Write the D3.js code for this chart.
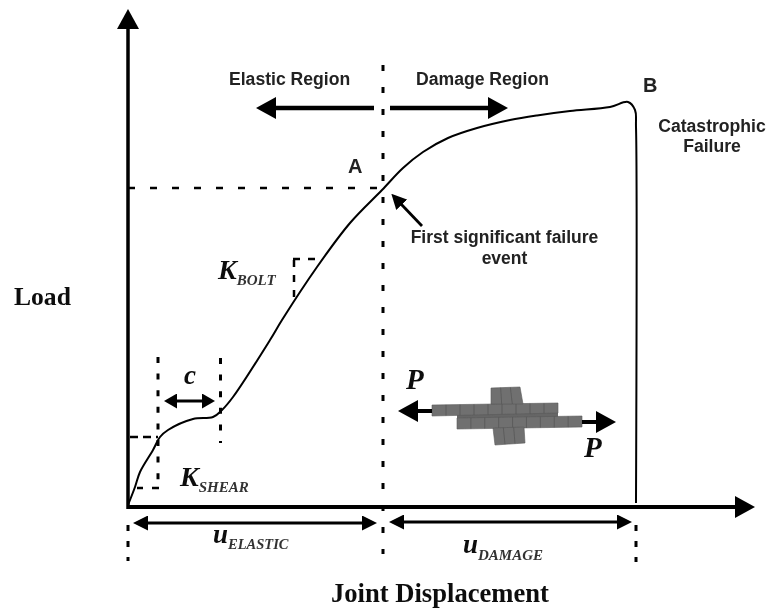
<!DOCTYPE html>
<html><head><meta charset="utf-8">
<script src="https://cdn.jsdelivr.net/npm/d3@7"></script>
<style>html,body{margin:0;padding:0;background:#fff}svg{display:block}
.sans{font-family:"Liberation Sans",Arial,sans-serif;font-weight:bold;fill:#222}
.serif{font-family:"Liberation Serif","Times New Roman",serif;font-weight:bold;fill:#111}
.it{font-style:italic}</style></head><body>
<svg id="c" width="770" height="611"></svg>
<script>
// Load-displacement curve, arbitrary units
const displacement=[0,1.4,2.4,5,6.4,8,13,17,18.8,21,28.4,30.8,37.8,44.4,50.8,55,59,64,69.8,76.4,81.8,88.4,96.4,100,101.4,101.6,101.6];
const load=[0.5,5,8.75,14.25,17.5,19.25,22,22.5,24.25,27.5,41.75,46.75,60,71,79.25,84.75,88.75,92.25,94.75,96.75,97.9,99,100,101.25,99.25,95,1];
const xMarks={shearEnd:6,slipEnd:18.5,firstFailure:51,failure:101.6};
const yMarks={firstFailure:79.75,shear:17.5};
const labels=["Elastic Region","Damage Region","A","B","Catastrophic","Failure","First significant failure","event","Load","Joint Displacement"];

const x=d3.scaleLinear().domain([0,100]).range([128,628]);
const y=d3.scaleLinear().domain([0,100]).range([507,107]);
const svg=d3.select("#c");
const defs=svg.append("defs");
defs.append("filter").attr("id","soft").append("feGaussianBlur").attr("stdDeviation",0.55);
function marker(id,w,h){
  defs.append("marker").attr("id",id).attr("markerUnits","userSpaceOnUse").attr("markerWidth",w).attr("markerHeight",h)
    .attr("refX",1).attr("refY",h/2).attr("orient","auto-start-reverse")
    .append("path").attr("d",`M0,0L${w},${h/2}L0,${h}Z`).attr("fill","#000");
}
marker("big",20,22);marker("mid",15,15);marker("small",13,15);
const g=svg.append("g").attr("filter","url(#soft)");

function seg(x1,y1,x2,y2,w,opts={}){
  const l=g.append("line").attr("x1",x1).attr("y1",y1).attr("x2",x2).attr("y2",y2).attr("stroke","#000").attr("stroke-width",w);
  if(opts.dash)l.attr("stroke-dasharray",opts.dash);
  if(opts.end)l.attr("marker-end",`url(#${opts.end})`);
  if(opts.start)l.attr("marker-start",`url(#${opts.start})`);
  return l;
}
// axes (no ticks in the original)
seg(x(0),y(0)+2,x(0),28,3.5,{end:"big"});
seg(x(0),y(0),736,y(0),3.8,{end:"big"});

// dashed guides
const xF=x(xMarks.firstFailure),xB=x(xMarks.failure),xS=x(xMarks.shearEnd),xC=x(xMarks.slipEnd);
seg(x(0),y(yMarks.firstFailure),380,y(yMarks.firstFailure),2.5,{dash:"7 15"});
seg(xF,65,xF,554,3,{dash:"6 16"});
seg(x(0)+2,y(yMarks.shear),xS,y(yMarks.shear),2.5,{dash:"8 5"});
seg(xS,357,xS,488,3,{dash:"6 10.6"});
seg(137,488,xS+1,488,2.5,{dash:"6 9 8"});
seg(xC,358,xC,443,3,{dash:"6 10.6"});
seg(294,297,294,258,2.5,{dash:"7 8"});
seg(293,259,316,259,2.5,{dash:"7 8"});
seg(x(0),525,x(0),561,3,{dash:"6 10"});
seg(xB,525,xB,562,3,{dash:"6 10"});

// curve
const line=d3.line().x(d=>x(d[0])).y(d=>y(d[1])).curve(d3.curveCatmullRom.alpha(0.5));
g.append("path").datum(d3.zip(displacement,load)).attr("d",line).attr("fill","none").attr("stroke","#000").attr("stroke-width",2);

// arrows
seg(374,108,275,108,4.5,{end:"big"});
seg(390,108,489,108,4.5,{end:"big"});
seg(147,523,363,523,3,{start:"mid",end:"mid"});
seg(403,522,618,522,3,{start:"mid",end:"mid"});
seg(176,401,203,401,3,{start:"small",end:"small"});
seg(422,226,401,204,2.8,{end:"mid"});

// joint mesh
const plates=[
 {q:[[432,405],[558,403],[558,413],[432,416]],nx:9},
 {q:[[457,418],[582,416],[582,427],[457,429]],nx:9},
 {q:[[491,388],[520,387],[523,404],[491,404]],nx:3},
 {q:[[493,428],[524,427],[525,443],[495,445]],nx:3}
];
const lerp=(a,b,t)=>[a[0]+(b[0]-a[0])*t,a[1]+(b[1]-a[1])*t];
g.append("polygon").attr("points","491,404 523,404 525,428 493,429").attr("fill","#666");
g.append("polygon").attr("points","457,414 558,412 558,418 457,419").attr("fill","#666");
plates.forEach(p=>{
  g.append("polygon").attr("points",p.q.map(c=>c.join(",")).join(" ")).attr("fill","#707070").attr("stroke","#5a5a5a").attr("stroke-width",0.6);
  for(let i=1;i<p.nx;i++){const a=lerp(p.q[0],p.q[1],i/p.nx),b=lerp(p.q[3],p.q[2],i/p.nx);
    g.append("line").attr("x1",a[0]).attr("y1",a[1]).attr("x2",b[0]).attr("y2",b[1]).attr("stroke","#4f4f4f").attr("stroke-width",0.6);}
});
seg(432,411,417,411,4,{end:"big"});
seg(582,422,597,422,4,{end:"big"});

// text
function t(cls,s,px,py,size,anchor){
  return g.append("text").attr("class",cls).attr("x",px).attr("y",py).attr("font-size",size).attr("text-anchor",anchor||"start").text(s);
}
t("sans",labels[0],229,85,17.6);
t("sans",labels[1],416,85,17.6);
t("sans",labels[2],348,173,20);
t("sans",labels[3],643,92,20);
t("sans",labels[4],712,132,17.6,"middle");
t("sans",labels[5],712,152,17.6,"middle");
t("sans",labels[6],504.5,243,17.5,"middle");
t("sans",labels[7],504.5,264,17.5,"middle");
t("serif",labels[8],14,305,25.6);
t("serif",labels[9],331,601.5,26.6);
function sub(base,subt,px,py,size,ss,dy){
  const e=t("serif it","",px,py,size);
  e.append("tspan").text(base);
  e.append("tspan").attr("font-size",ss).attr("dy",dy).attr("fill","#333").text(subt);
}
sub("K","BOLT",218,279,28,15,6);
sub("K","SHEAR",180,486,28,15,6);
sub("u","ELASTIC",213,543,27,14.5,6);
sub("u","DAMAGE",463,553,27,15,7);
t("serif it","c",184,384,27);
t("serif it","P",406,389,29);
t("serif it","P",584,457,29);
</script></body></html>
